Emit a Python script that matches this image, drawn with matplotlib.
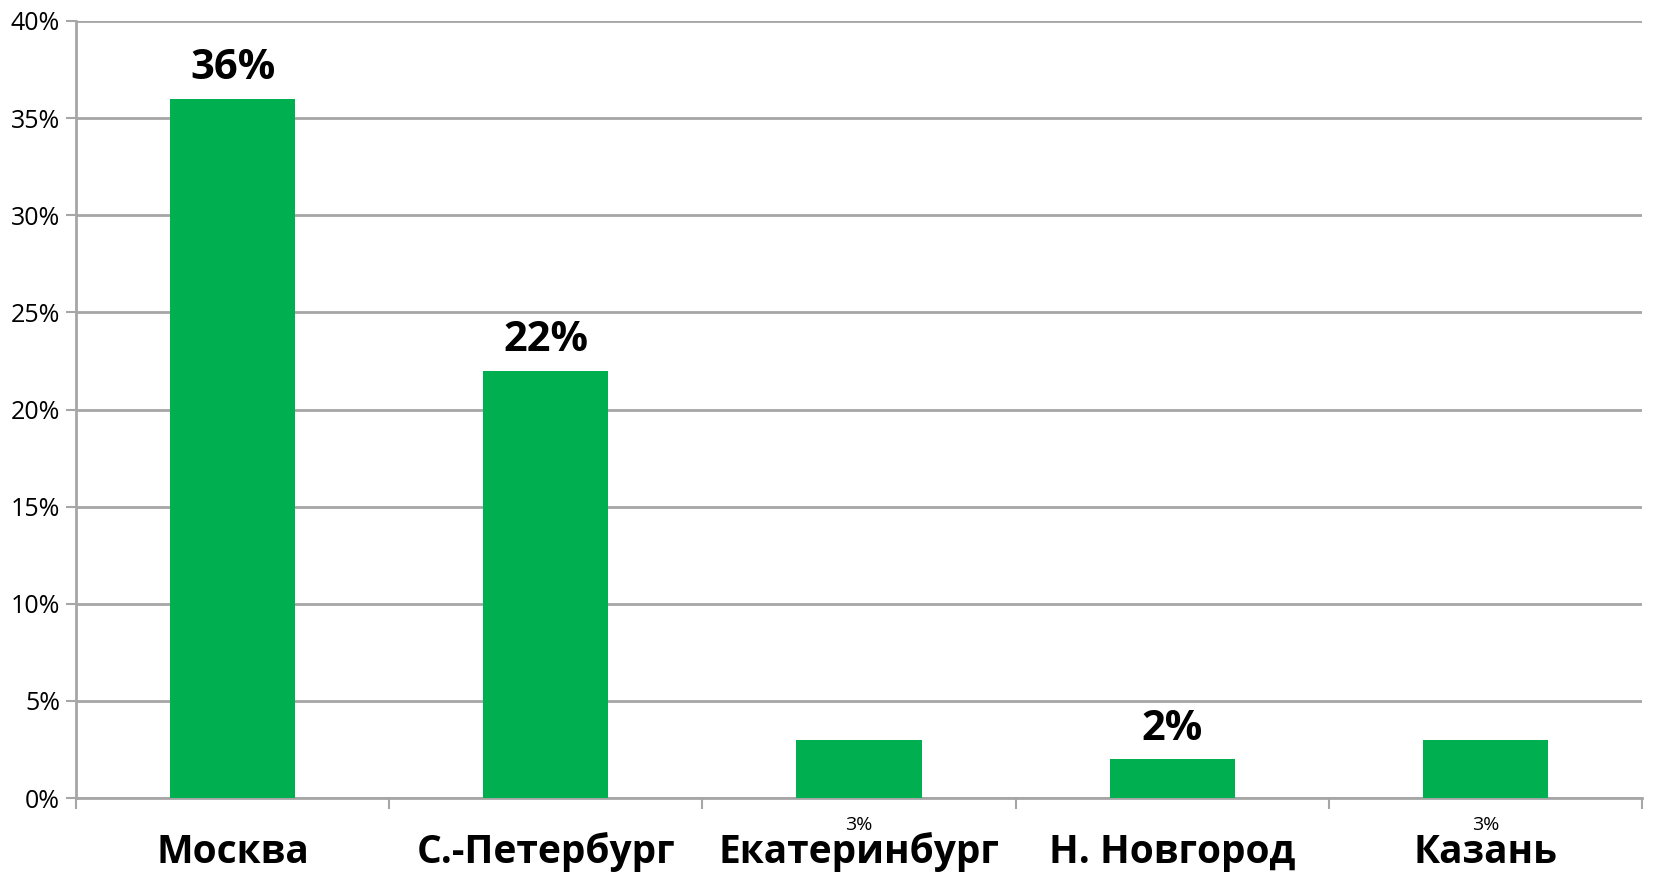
import matplotlib
matplotlib.use("Agg")
import matplotlib.pyplot as plt
from matplotlib.ticker import FixedLocator, PercentFormatter

plt.rcParams['font.family'] = ['Open Sans', 'DejaVu Sans']

categories = ["Москва", "С.-Петербург", "Екатеринбург", "Н. Новгород", "Казань"]
values = [36, 22, 3, 2, 3]
value_labels = ["36%", "22%", "3%", "2%", "3%"]
label_big = [True, True, False, True, False]   # big bold label above bar vs small label under axis
yticks = [0, 5, 10, 15, 20, 25, 30, 35, 40]

BAR = "#00B050"
GRID = "#A6A6A6"

fig = plt.figure(figsize=(16.63, 8.73), dpi=100)
ax = fig.add_axes([76/1663, 1 - 798/873, (1642 - 76)/1663, (798 - 21)/873])

x = list(range(len(categories)))
ax.bar(x, values, width=0.4, color=BAR, zorder=3)

ax.set_xlim(-0.5, len(categories) - 0.5)
ax.set_ylim(0, 40)
ax.set_yticks(yticks)
ax.yaxis.set_major_formatter(PercentFormatter(decimals=0))
ax.grid(axis='y', color=GRID, linewidth=2, zorder=0)
ax.tick_params(axis='y', length=7.5, width=1.5, color=GRID, labelsize=18, pad=4)

ax.xaxis.set_major_locator(FixedLocator([i - 0.5 for i in range(len(categories) + 1)]))
ax.set_xticklabels([])
ax.tick_params(axis='x', length=8, width=1.5, color=GRID)

for s in ['top', 'right']:
    ax.spines[s].set_visible(False)
for s in ['left', 'bottom']:
    ax.spines[s].set_color(GRID)
    ax.spines[s].set_linewidth(2)

for xi, cat in zip(x, categories):
    ax.annotate(cat, xy=(xi, 0), xycoords=('data', 'axes fraction'),
                xytext=(0, -46.5), textcoords='offset points',
                ha='center', va='baseline', fontsize=28, fontweight='bold')

for xi, v, lab, big in zip(x, values, value_labels, label_big):
    if big:
        ax.annotate(lab, xy=(xi, v), xytext=(0, 14), textcoords='offset points',
                    ha='center', va='baseline', fontsize=30, fontweight='bold')
    else:
        ax.annotate(lab, xy=(xi, 0), xycoords=('data', 'axes fraction'),
                    xytext=(0, -23), textcoords='offset points',
                    ha='center', va='baseline', fontsize=14)

fig.savefig("out.png", dpi=100)
